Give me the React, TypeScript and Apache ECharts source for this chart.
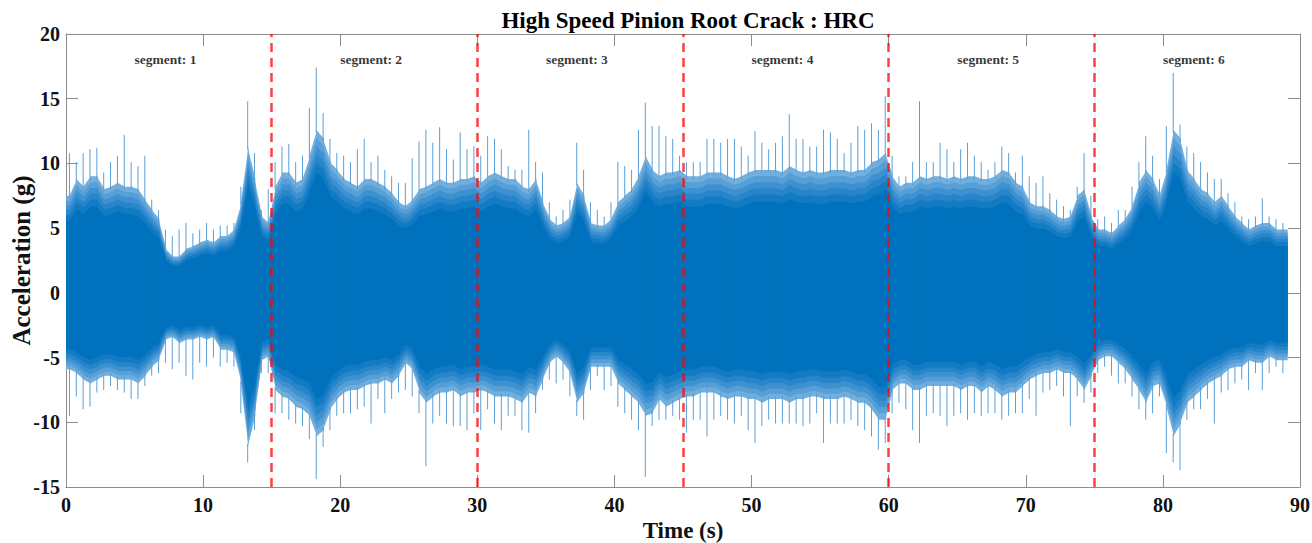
import React, { useEffect, useRef } from "react";
import * as echarts from "echarts";

const TITLE = "High Speed Pinion Root Crack : HRC";
const X_NAME = "Time (s)";
const Y_NAME = "Acceleration (g)";

const BIN = 0.5; // seconds per envelope bin
const SIGNAL_END = 89.1;

const xTicksMin = 0;
const xTicksMax = 90;
const xTickStep = 10;
const yTicksMin = -15;
const yTicksMax = 20;
const yTickStep = 5;

const segmentBoundaries = [15, 30, 45, 60, 75];
const segmentNames = ["segment: 1", "segment: 2", "segment: 3", "segment: 4", "segment: 5", "segment: 6"];
const segmentLabelX = [5, 20, 35, 50, 65, 80];
const segmentLabelY = 18;

// dense envelope (upper edge) per 0.5 s bin
const envHi = [
  7.5, 8.8, 8.2, 9.0, 9.0, 8.0, 8.2, 8.5, 8.2, 8.2, 8.0, 7.2, 6.4, 5.7, 3.4, 2.8, 2.8, 3.4, 3.6, 3.9,
  4.1, 3.9, 4.4, 4.4, 4.9, 7.0, 11.3, 8.8, 5.9, 5.4, 8.2, 9.3, 9.3, 8.5, 8.8, 10.6, 12.6, 11.9, 10.1, 9.5,
  8.8, 8.5, 8.2, 8.8, 8.8, 8.5, 8.2, 7.7, 7.0, 6.7, 7.2, 8.0, 8.2, 8.5, 8.8, 8.5, 8.5, 8.8, 8.8, 9.0,
  8.5, 9.0, 9.3, 9.0, 8.8, 8.8, 8.2, 8.0, 8.8, 7.0, 5.7, 5.2, 5.4, 5.9, 8.5, 7.5, 5.4, 5.2, 5.2, 5.7,
  7.0, 7.5, 8.0, 9.0, 10.6, 9.5, 9.0, 9.3, 9.3, 9.5, 9.0, 9.0, 9.0, 9.3, 9.3, 9.3, 9.0, 8.8, 9.0, 9.3,
  9.5, 9.5, 9.5, 9.5, 9.3, 9.8, 9.5, 9.3, 9.5, 9.3, 9.3, 9.5, 9.5, 9.5, 9.3, 9.5, 9.5, 10.1, 10.3, 10.8,
  9.0, 8.2, 8.5, 8.5, 9.0, 8.8, 9.0, 9.0, 8.8, 9.0, 8.8, 9.0, 9.0, 8.8, 8.8, 9.0, 9.5, 9.3, 8.5, 8.2,
  7.0, 6.7, 6.7, 6.4, 5.9, 5.7, 5.9, 7.5, 8.0, 5.9, 4.9, 4.9, 4.6, 5.2, 5.7, 6.7, 8.5, 9.5, 8.8, 7.5,
  9.5, 12.6, 11.9, 9.5, 8.8, 8.0, 7.7, 7.0, 7.5, 6.7, 5.9, 5.4, 4.9, 5.2, 5.4, 5.4, 4.9, 4.9,
];

// dense envelope (lower edge) per 0.5 s bin
const envLo = [
  -5.9, -6.2, -6.7, -7.0, -6.7, -6.4, -6.4, -6.7, -6.7, -6.7, -7.0, -6.4, -5.7, -5.2, -3.6, -3.4, -3.9, -3.6, -3.6, -3.4,
  -3.6, -3.4, -4.4, -4.4, -4.6, -7.0, -11.9, -9.5, -5.2, -4.9, -7.5, -8.0, -8.2, -8.8, -9.0, -9.5, -11.1, -10.6, -9.0, -8.2,
  -7.7, -7.5, -7.5, -7.2, -7.0, -7.0, -6.7, -7.0, -6.4, -5.4, -5.9, -7.7, -8.5, -8.0, -7.7, -7.7, -7.5, -8.0, -7.7, -7.7,
  -7.5, -7.7, -8.0, -8.0, -8.0, -8.2, -8.5, -7.7, -8.0, -6.7, -5.4, -4.9, -5.4, -6.2, -8.5, -7.7, -5.7, -5.7, -5.7, -5.7,
  -7.0, -7.5, -8.0, -8.5, -9.5, -9.3, -8.2, -8.8, -8.5, -8.2, -8.0, -8.0, -7.7, -7.7, -7.7, -8.0, -8.2, -8.0, -8.0, -8.2,
  -8.2, -8.5, -8.2, -8.2, -8.2, -8.5, -8.2, -8.2, -8.0, -8.0, -8.2, -8.2, -8.2, -8.0, -8.2, -8.5, -8.5, -9.0, -9.8, -9.8,
  -7.5, -7.0, -7.0, -7.5, -7.5, -7.2, -7.2, -7.2, -7.2, -7.2, -7.5, -7.2, -7.2, -7.7, -7.2, -7.5, -8.0, -7.7, -7.7, -7.2,
  -6.7, -6.4, -6.2, -6.2, -5.9, -6.2, -6.2, -6.7, -7.5, -6.4, -5.2, -4.9, -4.9, -5.4, -5.9, -6.7, -7.5, -8.5, -7.2, -7.0,
  -8.8, -11.1, -10.1, -8.5, -8.0, -7.5, -7.0, -6.7, -6.4, -5.9, -5.7, -5.7, -5.2, -5.4, -5.4, -4.9, -5.2, -5.2,
];

// highest spike per 0.5 s bin
const peakHi = [
  10.8, 10.1, 10.8, 11.1, 11.2, 9.3, 10.1, 10.6, 12.2, 10.1, 9.8, 10.6, 7.2, 6.4, 4.9, 4.4, 4.9, 5.4, 4.6, 4.9,
  5.4, 4.9, 5.2, 5.2, 5.4, 8.2, 14.8, 10.8, 6.4, 8.0, 10.1, 11.3, 11.5, 10.1, 10.6, 14.3, 17.4, 13.9, 11.9, 10.8,
  10.6, 10.1, 11.1, 11.9, 10.1, 10.6, 9.5, 9.0, 8.5, 8.5, 10.4, 11.7, 12.6, 11.6, 12.8, 11.1, 10.3, 12.4, 11.1, 11.3,
  10.6, 12.1, 11.9, 11.1, 9.8, 9.5, 9.5, 12.6, 10.1, 9.3, 7.0, 5.9, 6.4, 7.2, 11.6, 9.5, 7.0, 6.4, 5.9, 7.0,
  10.1, 9.8, 9.5, 12.6, 14.7, 12.9, 12.9, 12.1, 11.9, 10.6, 10.1, 10.1, 10.1, 11.9, 11.9, 11.6, 11.9, 11.9, 11.3, 10.6,
  12.5, 11.6, 11.1, 11.6, 12.1, 13.8, 11.9, 11.9, 11.3, 11.3, 12.6, 12.4, 11.9, 10.8, 11.6, 12.9, 12.6, 13.1, 12.6, 15.2,
  10.6, 9.0, 9.0, 10.1, 14.8, 10.1, 10.1, 11.6, 11.1, 10.1, 11.1, 11.6, 10.6, 10.1, 9.5, 10.1, 11.3, 10.8, 9.3, 10.6,
  9.0, 8.5, 9.0, 7.7, 7.2, 6.7, 6.4, 8.2, 10.8, 7.5, 5.7, 5.9, 5.4, 6.4, 6.4, 8.2, 10.1, 12.1, 10.6, 8.8,
  12.9, 17.0, 13.0, 11.3, 10.8, 10.1, 9.3, 8.8, 8.8, 7.7, 7.0, 5.9, 5.7, 5.9, 7.3, 5.9, 5.7, 5.4,
];

// lowest spike per 0.5 s bin
const peakLo = [
  -9.5, -8.0, -9.0, -8.8, -7.7, -7.5, -7.2, -7.5, -7.7, -8.2, -8.2, -7.2, -6.4, -6.2, -5.4, -5.9, -5.4, -6.4, -6.7, -5.4,
  -5.7, -5.0, -5.7, -5.4, -5.7, -9.3, -13.1, -10.6, -6.2, -6.2, -9.3, -9.3, -9.8, -10.1, -10.3, -11.3, -14.4, -11.9, -10.6, -9.5,
  -9.3, -9.3, -9.0, -8.8, -10.1, -8.2, -9.3, -8.2, -7.7, -7.5, -8.0, -9.3, -13.4, -10.1, -9.5, -10.1, -10.3, -10.3, -10.6, -9.3,
  -10.6, -9.0, -10.1, -10.6, -9.5, -9.5, -10.6, -10.8, -9.3, -7.5, -6.7, -7.0, -6.7, -8.0, -9.5, -9.8, -7.5, -6.4, -7.5, -7.2,
  -8.8, -9.3, -9.8, -10.6, -14.2, -10.3, -9.8, -9.8, -9.5, -9.8, -10.8, -9.8, -9.8, -11.1, -9.8, -9.5, -9.8, -10.1, -9.5, -10.6,
  -11.6, -10.3, -9.8, -10.1, -10.1, -10.1, -10.1, -10.3, -10.1, -9.3, -11.6, -10.1, -10.1, -10.1, -9.8, -10.3, -10.6, -11.1, -12.1, -11.6,
  -9.3, -8.5, -9.0, -10.6, -11.6, -9.5, -9.3, -9.5, -10.3, -9.5, -9.3, -9.8, -9.3, -9.5, -9.3, -9.3, -9.8, -9.5, -9.3, -9.3,
  -8.2, -9.5, -7.7, -7.5, -7.2, -8.0, -10.3, -8.0, -8.5, -7.7, -6.2, -5.7, -6.4, -7.0, -7.0, -8.0, -9.0, -9.8, -9.3, -8.0,
  -12.4, -13.1, -13.7, -9.8, -9.0, -9.0, -8.2, -10.1, -7.7, -7.5, -7.0, -6.7, -7.5, -6.2, -7.5, -6.2, -5.7, -6.2,
];

const SERIF = "'Liberation Serif', 'Times New Roman', serif";
const BLUE = "#0072BD";
const FRAME = "#8c8c8c";

// shading bands of the dense trace, from its outer edge inwards (style only)
const FRINGE_BANDS = [
  { f: 1.0, color: "#72afdd" },
  { f: 0.95, color: "#579fd7" },
  { f: 0.9, color: "#3e91d0" },
  { f: 0.85, color: "#2785ca" },
  { f: 0.8, color: "#137bc3" },
  { f: 0.74, color: BLUE },
];

export default function App() {
  const ref = useRef<HTMLDivElement>(null);

  useEffect(() => {
    if (!ref.current) return;
    document.body.style.margin = "0";
    const chart = echarts.init(ref.current, undefined, { renderer: "svg" });

    const binData = envHi.map((h, i) => [i * BIN + BIN / 2, h, envLo[i], peakHi[i], peakLo[i]]);
    const n = binData.length;

    const axisCommon = {
      axisLine: { show: true, onZero: false, lineStyle: { color: FRAME, width: 1 } },
      axisTick: { show: true, inside: true, length: 12, lineStyle: { color: FRAME, width: 1 } },
      splitLine: { show: false },
    };
    const labelStyle = {
      fontFamily: SERIF,
      fontWeight: "bold" as const,
      fontSize: 20,
      color: "#111",
    };

    const bandSeries = FRINGE_BANDS.map((band, k) => ({
      type: "custom",
      name: "trace-" + k,
      xAxisIndex: 0,
      yAxisIndex: 0,
      z: 2 + k * 0.01,
      silent: true,
      data: binData,
      encode: { x: 0, y: [1, 2] },
      renderItem: (params: any, api: any) => {
        const i = params.dataIndex;
        const c = api.value(0);
        const hi = api.value(1);
        const lo = api.value(2);
        const last = i === n - 1;
        const cNext = last ? SIGNAL_END : binData[i + 1][0];
        const hiNext = last ? hi : binData[i + 1][1];
        const loNext = last ? lo : binData[i + 1][2];
        const over = last ? 0 : 0.9;
        const pts: number[][] = [];
        if (i === 0) pts.push(api.coord([0, hi * band.f]));
        pts.push(api.coord([c, hi * band.f]));
        const a = api.coord([cNext, hiNext * band.f]);
        const b = api.coord([cNext, loNext * band.f]);
        pts.push([a[0] + over, a[1]]);
        pts.push([b[0] + over, b[1]]);
        pts.push(api.coord([c, lo * band.f]));
        if (i === 0) pts.push(api.coord([0, lo * band.f]));
        return {
          type: "polygon",
          shape: { points: pts },
          style: { fill: band.color, stroke: null },
        };
      },
    }));

    const option: any = {
      animation: false,
      backgroundColor: "#ffffff",
      title: {
        text: TITLE,
        left: 683,
        textAlign: "center",
        top: 4,
        textStyle: { fontFamily: SERIF, fontWeight: "bold", fontSize: 23, color: "#000" },
      },
      grid: { left: 66, right: 12, top: 34, bottom: 56, containLabel: false, outerBoundsMode: "none" },
      xAxis: [
        {
          type: "value",
          min: xTicksMin,
          max: xTicksMax,
          interval: xTickStep,
          position: "bottom",
          name: X_NAME,
          nameLocation: "middle",
          nameGap: 32,
          nameMoveOverlap: false,
          nameTextStyle: { fontFamily: SERIF, fontWeight: "bold", fontSize: 23, color: "#111" },
          axisLabel: { ...labelStyle, margin: 8 },
          ...axisCommon,
        },
        {
          type: "value",
          min: xTicksMin,
          max: xTicksMax,
          interval: xTickStep,
          position: "top",
          axisLabel: { show: false },
          ...axisCommon,
        },
      ],
      yAxis: [
        {
          type: "value",
          min: yTicksMin,
          max: yTicksMax,
          interval: yTickStep,
          position: "left",
          name: Y_NAME,
          nameLocation: "middle",
          nameGap: 32,
          nameRotate: 90,
          nameMoveOverlap: false,
          nameTextStyle: { fontFamily: SERIF, fontWeight: "bold", fontSize: 25, color: "#111" },
          axisLabel: { ...labelStyle, margin: 6 },
          ...axisCommon,
        },
        {
          type: "value",
          min: yTicksMin,
          max: yTicksMax,
          interval: yTickStep,
          position: "right",
          axisLabel: { show: false },
          ...axisCommon,
        },
      ],
      series: [
        ...bandSeries,
        {
          type: "custom",
          name: "spikes",
          xAxisIndex: 0,
          yAxisIndex: 0,
          z: 3,
          silent: true,
          data: binData,
          encode: { x: 0, y: [3, 4] },
          renderItem: (params: any, api: any) => {
            const c = api.value(0);
            const h0 = api.coord([c, api.value(1)]);
            const h1 = api.coord([c, api.value(3)]);
            const l0 = api.coord([c, api.value(2)]);
            const l1 = api.coord([c, api.value(4)]);
            const st = { stroke: "#5b9fd6", lineWidth: 1 };
            return {
              type: "group",
              children: [
                { type: "line", shape: { x1: h0[0], y1: h0[1] + 3, x2: h1[0], y2: h1[1] }, style: st },
                { type: "line", shape: { x1: l0[0], y1: l0[1] - 3, x2: l1[0], y2: l1[1] }, style: st },
              ],
            };
          },
        },
        {
          type: "scatter",
          name: "segments",
          xAxisIndex: 0,
          yAxisIndex: 0,
          z: 5,
          silent: true,
          symbolSize: 0,
          data: segmentLabelX.map((x, i) => ({ value: [x, segmentLabelY], name: segmentNames[i] })),
          label: {
            show: true,
            position: "right",
            distance: 0,
            formatter: (p: any) => p.name,
            fontFamily: SERIF,
            fontWeight: "bold",
            fontSize: 13.5,
            color: "#000",
          },
          markLine: {
            silent: true,
            symbol: ["none", "none"],
            label: { show: false },
            lineStyle: { color: "rgba(255,0,0,0.75)", width: 2.5, type: [9, 6] },
            data: segmentBoundaries.map((b) => ({ xAxis: b })),
          },
        },
      ],
    };

    chart.setOption(option);
    return () => chart.dispose();
  }, []);

  return (
    <div
      ref={ref}
      style={{ position: "fixed", left: 0, top: 0, width: 1312, height: 543, background: "#fff" }}
    />
  );
}
